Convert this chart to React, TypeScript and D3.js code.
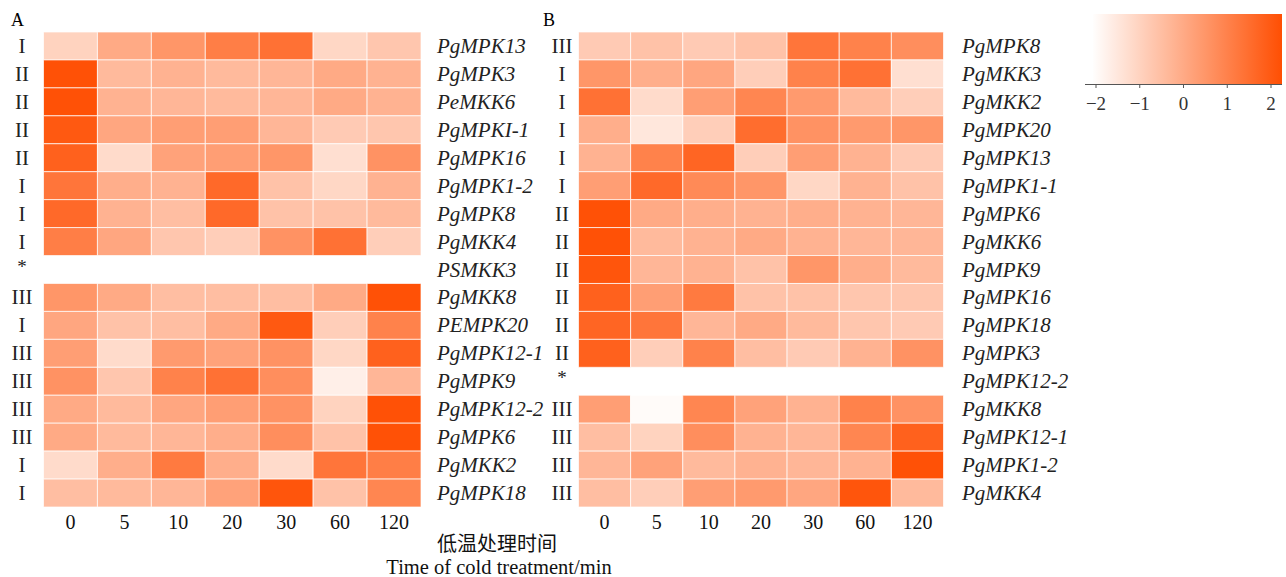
// Heatmap of MAPK cascade gene expression under cold treatment, drawn with D3 scales
import * as d3 from 'd3';

const times = ['0', '5', '10', '20', '30', '60', '120'];

const genesA = ['PgMPK13', 'PgMPK3', 'PeMKK6', 'PgMPKI-1', 'PgMPK16', 'PgMPK1-2', 'PgMPK8', 'PgMKK4', 'PSMKK3',
  'PgMKK8', 'PEMPK20', 'PgMPK12-1', 'PgMPK9', 'PgMPK12-2', 'PgMPK6', 'PgMKK2', 'PgMPK18'];
const groupsA = ['I', 'II', 'II', 'II', 'II', 'I', 'I', 'I', '*', 'III', 'I', 'III', 'III', 'III', 'III', 'I', 'I'];
const valuesA: (number[] | null)[] = [
  [-1.0, 0.0, 0.5, 1.1, 1.4, -1.1, -0.7],
  [2.2, -0.4, -0.2, -0.4, -0.3, 0.0, -0.2],
  [2.2, -0.2, -0.3, -0.4, -0.3, 0.0, -0.2],
  [2.0, 0.1, 0.3, 0.3, -0.3, -0.8, -0.7],
  [1.8, -1.2, 0.2, 0.3, 0.5, -1.3, 0.6],
  [1.3, -0.1, -0.2, 1.6, -0.6, -1.1, -0.2],
  [1.6, -0.2, -0.5, 1.6, -0.6, -0.6, -0.4],
  [1.1, 0.1, -0.7, -0.9, 0.6, 1.4, -0.9],
  null,
  [0.5, 0.0, -0.5, -0.5, -0.5, 0.0, 2.2],
  [0.1, -0.6, -0.5, 0.0, 2.0, -0.9, 1.0],
  [0.3, -1.2, 0.4, 0.2, 0.6, -1.1, 1.8],
  [0.6, -0.7, 1.0, 1.4, 0.7, -1.7, -0.3],
  [0.0, -0.4, 0.1, 0.3, 0.6, -1.0, 2.2],
  [0.0, -0.4, -0.3, -0.1, 0.7, -0.6, 2.2],
  [-1.2, -0.1, 1.2, -0.1, -1.2, 1.3, 1.1],
  [-0.5, -0.4, -0.3, 0.2, 2.1, -0.6, 0.9],
];

const genesB = ['PgMPK8', 'PgMKK3', 'PgMKK2', 'PgMPK20', 'PgMPK13', 'PgMPK1-1', 'PgMPK6', 'PgMKK6', 'PgMPK9',
  'PgMPK16', 'PgMPK18', 'PgMPK3', 'PgMPK12-2', 'PgMKK8', 'PgMPK12-1', 'PgMPK1-2', 'PgMKK4'];
const groupsB = ['III', 'I', 'I', 'I', 'I', 'I', 'II', 'II', 'II', 'II', 'II', 'II', '*', 'III', 'III', 'III', 'III'];
const valuesB: (number[] | null)[] = [
  [-0.8, -0.6, -0.8, -0.6, 1.3, 1.0, 0.7],
  [0.5, -0.1, 0.1, -0.9, 1.0, 1.4, -1.3],
  [1.4, -1.2, 0.3, 0.9, 0.4, -0.4, -0.9],
  [-0.1, -1.5, -0.9, 1.5, 0.6, 0.4, 0.5],
  [-0.2, 1.0, 1.7, -0.9, 0.3, -0.2, -0.8],
  [0.3, 1.6, 0.8, 0.5, -1.1, -0.2, -0.6],
  [2.2, 0.0, -0.1, -0.2, -0.1, -0.2, -0.3],
  [2.2, -0.4, -0.2, 0.0, -0.2, -0.3, -0.3],
  [2.1, -0.3, -0.2, -0.6, 0.5, -0.1, -0.4],
  [1.8, 0.3, 1.2, -0.6, -0.6, -0.7, -0.7],
  [1.7, 1.3, -0.3, 0.0, -0.4, -0.7, -0.8],
  [1.8, -0.9, 1.0, -0.5, -0.8, -0.2, 0.6],
  null,
  [0.3, -2.0, 0.9, 0.2, -0.2, 1.0, 0.6],
  [-0.5, -1.0, 0.7, -0.2, -0.3, 0.9, 1.8],
  [-0.3, 0.2, -0.4, -0.2, -0.3, -0.2, 2.2],
  [-0.5, -0.9, 0.3, 0.4, 0.1, 2.1, -0.4],
];

const legendTicks = [-2, -1, 0, 1, 2];

const W = 1286;
const H = 577;
const serif = '"Liberation Serif", "DejaVu Serif", serif';

const color = d3.scaleLinear<string>()
  .domain([-2.1, 2.3])
  .range(['#ffffff', '#ff4d00'])
  .interpolate(d3.interpolateRgb)
  .clamp(true);

const yScale = d3.scaleBand<number>()
  .domain(d3.range(17))
  .range([32, 507]);

interface PanelProps {
  letter: string;
  genes: string[];
  groups: string[];
  values: (number[] | null)[];
  x0: number;
  x1: number;
  groupX: number;
  labelX: number;
  letterX: number;
}

const Panel = ({ letter, genes, groups, values, x0, x1, groupX, labelX, letterX }: PanelProps) => {
  const xScale = d3.scaleBand<string>().domain(times).range([x0, x1]);
  return (
    <g>
      <text x={letterX} y={26} fontSize={18} fontFamily={serif}>{letter}</text>
      {values.map((row, i) =>
        row ? row.map((v, j) => (
          <rect
            key={`${i}-${j}`}
            x={xScale(times[j])}
            y={yScale(i)}
            width={xScale.bandwidth()}
            height={yScale.bandwidth()}
            fill={color(v)}
            stroke="#fff"
            strokeOpacity={0.7}
            strokeWidth={1}
          />
        )) : null
      )}
      {groups.map((gr, i) => (
        <text
          key={`g${i}`}
          x={groupX}
          y={(yScale(i) || 0) + yScale.bandwidth() / 2 + (gr === '*' ? 3 : 7)}
          fontSize={gr === '*' ? 19 : 21}
          textAnchor="middle"
          fontFamily={serif}
          fill="#222"
        >{gr}</text>
      ))}
      {genes.map((g, i) => (
        <text
          key={`n${i}`}
          x={labelX}
          y={(yScale(i) || 0) + yScale.bandwidth() / 2 + 7}
          fontSize={21}
          fontStyle="italic"
          fontFamily={serif}
          fill="#222"
        >{g}</text>
      ))}
      {times.map(t => (
        <text
          key={`t${t}`}
          x={(xScale(t) || 0) + xScale.bandwidth() / 2}
          y={529}
          fontSize={20}
          textAnchor="middle"
          fontFamily={serif}
          fill="#111"
        >{t}</text>
      ))}
    </g>
  );
};

const Legend = () => {
  const lx = d3.scaleLinear().domain([-2, 2]).range([1096, 1271]);
  const left = 1093;
  const right = 1282;
  return (
    <g>
      <defs>
        <linearGradient id="legend-grad" x1="0" x2="1" y1="0" y2="0">
          {d3.range(0, 1.0001, 0.1).map(t => (
            <stop key={t} offset={`${t * 100}%`} stopColor={color(lx.invert(left + t * (right - left)))} />
          ))}
        </linearGradient>
      </defs>
      <rect x={left} y={14} width={right - left} height={70} fill="url(#legend-grad)" />
      <line x1={1085} x2={right} y1={84.5} y2={84.5} stroke="#555" strokeWidth={1} />
      {legendTicks.map(t => (
        <g key={t}>
          <line x1={lx(t)} x2={lx(t)} y1={84.5} y2={88} stroke="#555" />
          <text x={lx(t)} y={110} fontSize={19} textAnchor="middle" fontFamily={serif} fill="#333">
            {t < 0 ? `\u2212${Math.abs(t)}` : t}
          </text>
        </g>
      ))}
    </g>
  );
};

const App = () => (
  <svg width={W} height={H} style={{ display: 'block', position: 'absolute', left: 0, top: 0, background: '#fff' }}>
    <Panel letter="A" genes={genesA} groups={groupsA} values={valuesA}
      x0={43.5} x1={421} groupX={22} labelX={437} letterX={11} />
    <Panel letter="B" genes={genesB} groups={groupsB} values={valuesB}
      x0={578.5} x1={943.5} groupX={562} labelX={962} letterX={543} />
    <Legend />
    <text x={497} y={551} fontSize={20} textAnchor="middle" fontFamily='"Noto Sans CJK SC", serif' fill="#111">低温处理时间</text>
    <text x={499} y={574} fontSize={20.5} textAnchor="middle" fontFamily={serif} fill="#111">Time of cold treatment/min</text>
  </svg>
);

export default App;
